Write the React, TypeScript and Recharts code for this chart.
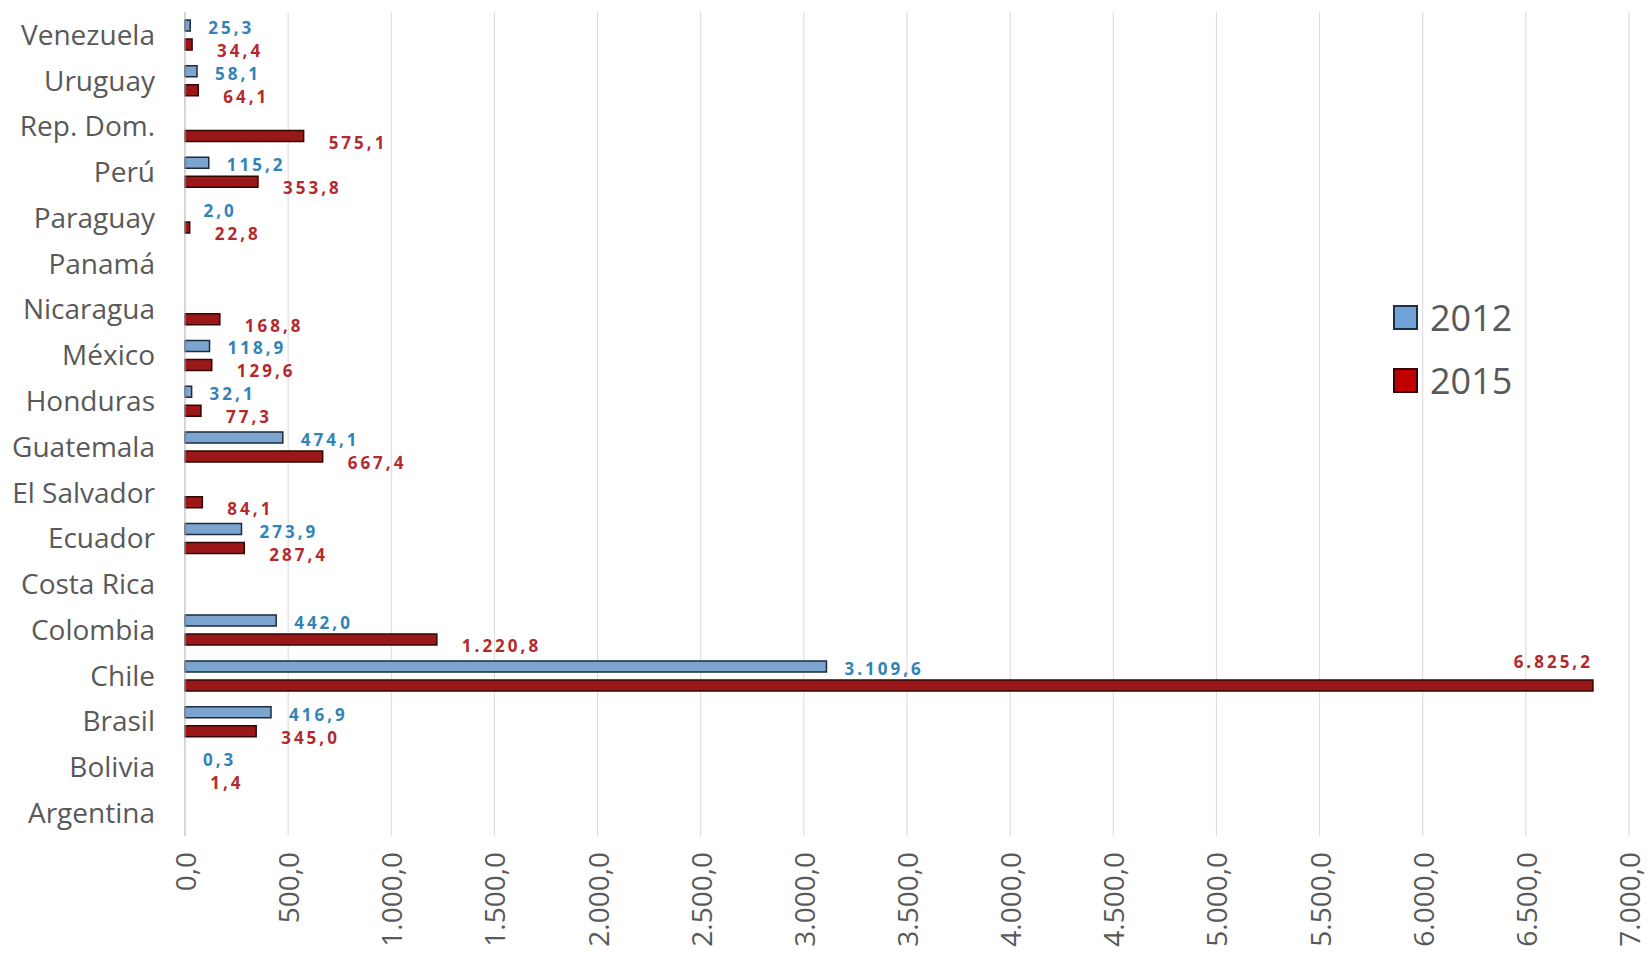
import { BarChart, Bar, XAxis, YAxis, CartesianGrid, LabelList, Legend, Rectangle } from 'recharts'

// orden de arriba hacia abajo, como en el gráfico original
const paises = [
  'Venezuela', 'Uruguay', 'Rep. Dom.', 'Perú', 'Paraguay', 'Panamá', 'Nicaragua', 'México', 'Honduras',
  'Guatemala', 'El Salvador', 'Ecuador', 'Costa Rica', 'Colombia', 'Chile', 'Brasil', 'Bolivia', 'Argentina',
]
const valores2012 = [25.3, 58.1, null, 115.2, 2.0, null, null, 118.9, 32.1, 474.1, null, 273.9, null, 442.0, 3109.6, 416.9, 0.3, null]
const valores2015 = [34.4, 64.1, 575.1, 353.8, 22.8, null, 168.8, 129.6, 77.3, 667.4, 84.1, 287.4, null, 1220.8, 6825.2, 345.0, 1.4, null]
const ticksX = [0, 500, 1000, 1500, 2000, 2500, 3000, 3500, 4000, 4500, 5000, 5500, 6000, 6500, 7000]

const data = paises.map((pais, i) => ({ pais, a2012: valores2012[i], a2015: valores2015[i] }))

const GRIS = '#595959'
const FUENTE = '"Open Sans", sans-serif'

const fmt = (n: number) => {
  const [ent, dec] = n.toFixed(1).split('.')
  return ent.replace(/\B(?=(\d{3})+(?!\d))/g, '.') + ',' + dec
}

const TickX = ({ x, y, payload }: any) => (
  <text
    transform={`translate(${x},${y + 14}) rotate(-90)`}
    textAnchor="end"
    dominantBaseline="central"
    fill={GRIS}
    fontSize={28}
    fontFamily={FUENTE}
  >
    {fmt(payload.value)}
  </text>
)

const etiqueta = (color: string, dx: number, dy: number) => (props: any) => {
  const { x, y, width, height, value } = props
  if (value == null) return null
  const texto = fmt(Number(value))
  const xf = Number(x) + Number(width)
  const yc = Number(y) + Number(height) / 2
  const estilo = { fill: color, fontSize: 17, fontWeight: 700, fontFamily: FUENTE, letterSpacing: 3 }
  if (xf + dx + texto.length * 15 > 1650) {
    return <text x={xf} y={yc - 24} textAnchor="end" dominantBaseline="central" {...estilo}>{texto}</text>
  }
  return <text x={xf + dx} y={yc + dy} dominantBaseline="central" {...estilo}>{texto}</text>
}

// las barras casi nulas no se ven en el original
const barra = (props: any) => (props.width < 2 ? <g /> : <Rectangle {...props} />)

const LEYENDA = [
  { nombre: '2012', fill: '#6fa3d8', stroke: '#1f2f45' },
  { nombre: '2015', fill: '#c00000', stroke: '#3a0505' },
]

const renderLeyenda = () => (
  <div style={{ fontFamily: FUENTE }}>
    {LEYENDA.map((l) => (
      <div key={l.nombre} style={{ display: 'flex', alignItems: 'center', height: 63 }}>
        <span style={{ width: 21, height: 21, background: l.fill, border: `2px solid ${l.stroke}`, marginRight: 12 }} />
        <span style={{ fontSize: 36, color: GRIS }}>{l.nombre}</span>
      </div>
    ))}
  </div>
)

export default function App() {
  return (
    <div style={{ position: 'absolute', left: 0, top: 0, background: '#fff' }}>
      <BarChart
        width={1650}
        height={957}
        data={data}
        layout="vertical"
        margin={{ top: 12, right: 21, bottom: 0, left: 0 }}
        barSize={11}
        barGap={8}
      >
        <CartesianGrid horizontal={false} stroke="#d9d9d9" />
        <XAxis
          type="number"
          domain={[0, 7000]}
          ticks={ticksX}
          interval={0}
          axisLine={false}
          tickLine={false}
          tickSize={0}
          height={121}
          tick={<TickX />}
        />
        <YAxis
          type="category"
          dataKey="pais"
          width={185}
          tickLine={false}
          tickSize={0}
          tickMargin={30}
          axisLine={{ stroke: '#bfbfbf' }}
          tick={{ fill: GRIS, fontSize: 28, fontFamily: FUENTE }}
          interval={0}
        />
        <Legend
          layout="vertical"
          align="center"
          verticalAlign="middle"
          content={renderLeyenda}
          wrapperStyle={{ left: 1393, top: 286, width: 200 }}
        />
        <Bar dataKey="a2012" name="2012" fill="#7ba4cf" stroke="#1c2b3d" strokeWidth={1.5} shape={barra} isAnimationActive={false}>
          <LabelList dataKey="a2012" content={etiqueta('#3283b8', 18, 2)} />
        </Bar>
        <Bar dataKey="a2015" name="2015" fill="#9b1818" stroke="#330606" strokeWidth={1.5} shape={barra} isAnimationActive={false}>
          <LabelList dataKey="a2015" content={etiqueta('#b32a2e', 25, 6)} />
        </Bar>
      </BarChart>
    </div>
  )
}
